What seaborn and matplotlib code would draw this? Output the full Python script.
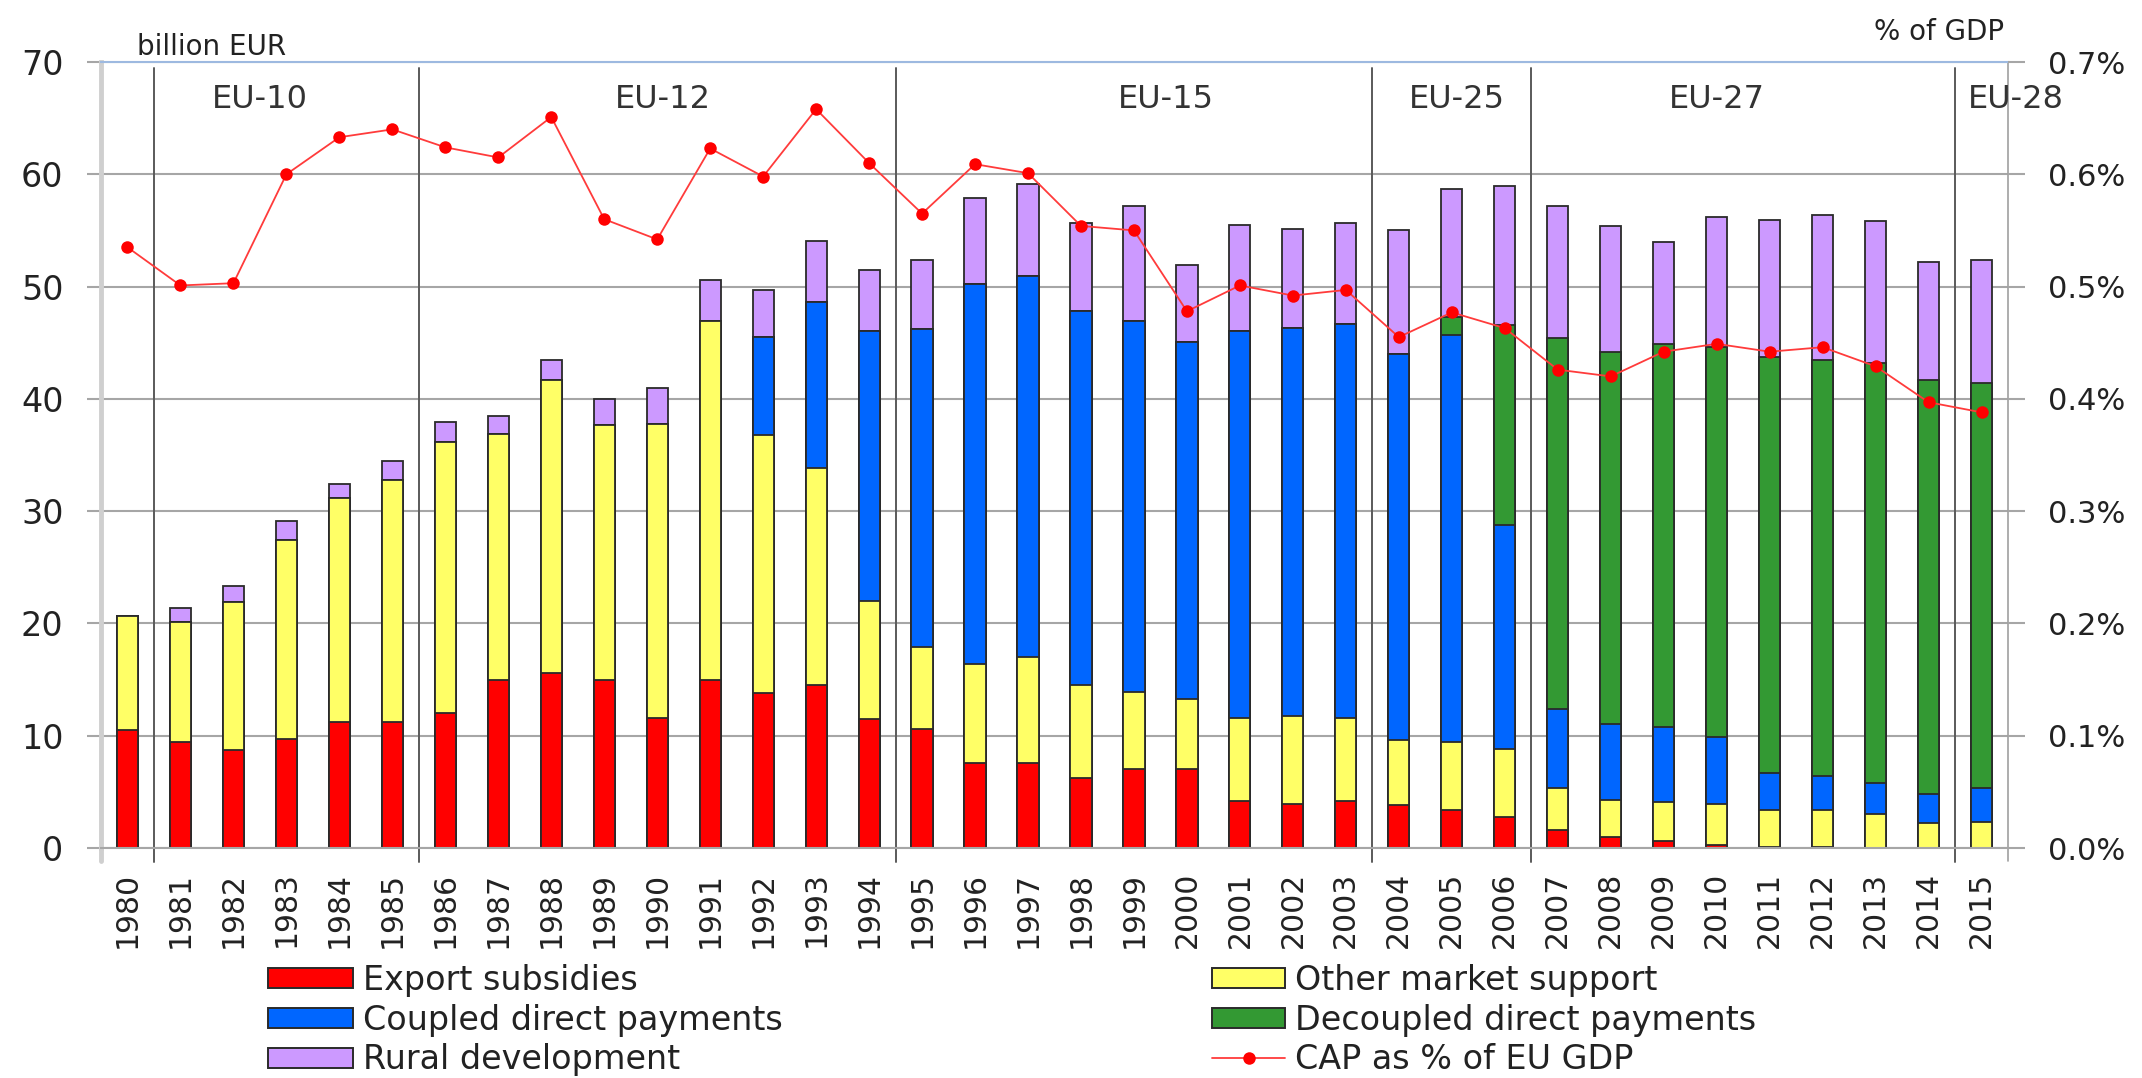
import numpy as np
import pandas as pd
import seaborn as sns
import matplotlib
matplotlib.use('Agg')
from matplotlib import pyplot as plt
from matplotlib import transforms
from matplotlib.lines import Line2D
from matplotlib.patches import Patch

# CAP expenditure, billion EUR
years = [str(y) for y in range(1980, 2016)]
export_subsidies = [10.5, 9.4, 8.7, 9.7, 11.2, 11.2, 12.0, 15.0, 15.6, 15.0,
                    11.6, 15.0, 13.8, 14.5, 11.5, 10.6, 7.6, 7.6, 6.2, 7.0,
                    7.0, 4.2, 3.9, 4.2, 3.8, 3.4, 2.8, 1.6, 1.0, 0.6,
                    0.3, 0.1, 0.1, 0.0, 0.0, 0.0]
other_market_support = [10.2, 10.7, 13.2, 17.7, 20.0, 21.6, 24.2, 21.9, 26.1, 22.7,
                        26.2, 31.9, 23.0, 19.3, 10.5, 7.3, 8.8, 9.4, 8.3, 6.9,
                        6.3, 7.4, 7.9, 7.4, 5.8, 6.0, 6.0, 3.7, 3.3, 3.5,
                        3.6, 3.25, 3.25, 3.05, 2.2, 2.3]
coupled_payments = [0, 0, 0, 0, 0, 0, 0, 0, 0, 0,
                    0, 0, 8.7, 14.8, 24.0, 28.3, 33.8, 33.9, 33.3, 33.0,
                    31.8, 34.4, 34.55, 35.1, 34.4, 36.3, 20.0, 7.1, 6.7, 6.65,
                    6.0, 3.35, 3.1, 2.75, 2.6, 3.0]
decoupled_payments = [0, 0, 0, 0, 0, 0, 0, 0, 0, 0,
                      0, 0, 0, 0, 0, 0, 0, 0, 0, 0,
                      0, 0, 0, 0, 0, 1.6, 17.8, 33.0, 33.2, 34.1,
                      34.7, 37.0, 37.05, 37.4, 36.9, 36.1]
rural_development = [0, 1.3, 1.4, 1.7, 1.2, 1.7, 1.7, 1.6, 1.8, 2.3,
                     3.2, 3.7, 4.2, 5.5, 5.5, 6.2, 7.7, 8.2, 7.9, 10.3,
                     6.8, 9.5, 8.8, 9.0, 11.0, 11.4, 12.4, 11.8, 11.2, 9.1,
                     11.6, 12.2, 12.9, 12.6, 10.5, 11.0]
# CAP as % of EU GDP
cap_pct_gdp = [0.535, 0.501, 0.503, 0.600, 0.633, 0.640, 0.624, 0.615, 0.651, 0.560,
               0.542, 0.623, 0.598, 0.658, 0.610, 0.565, 0.609, 0.601, 0.554, 0.550,
               0.478, 0.501, 0.492, 0.497, 0.455, 0.477, 0.463, 0.426, 0.420, 0.442,
               0.449, 0.442, 0.446, 0.429, 0.397, 0.388]

enlargements = ['EU-10', 'EU-12', 'EU-15', 'EU-25', 'EU-27', 'EU-28']
enlargement_years = ['1981', '1986', '1995', '2004', '2007', '2015']
label_pos = [2.5, 10.1, 19.6, 25.1, 30.0, 35.65]

series = ['Export subsidies', 'Other market support', 'Coupled direct payments',
          'Decoupled direct payments', 'Rural development']
colors = ['#ff0000', '#ffff66', '#0066ff', '#339933', '#cc99ff']

df = pd.DataFrame({'Export subsidies': export_subsidies,
                   'Other market support': other_market_support,
                   'Coupled direct payments': coupled_payments,
                   'Decoupled direct payments': decoupled_payments,
                   'Rural development': rural_development}, index=years)
cum = df.cumsum(axis=1)

sns.set_style('white')
plt.rcParams['font.family'] = ['DejaVu Sans']
plt.rcParams['text.color'] = '#222222'
plt.rcParams['xtick.color'] = '#222222'
plt.rcParams['ytick.color'] = '#222222'

fig = plt.figure(figsize=(21.42, 10.78), dpi=100)
ax = fig.add_axes([101 / 2142, 230 / 1078, 1907 / 2142, 786 / 1078])

grid_c = '#a6a6a6'
edge_c = '#2a2a2a'

# stacked bars: draw cumulative totals from the top layer down
for name, col in reversed(list(zip(series, colors))):
    sns.barplot(x=years, y=cum[name].values, order=years, color=col, saturation=1,
                width=0.4, edgecolor=edge_c, linewidth=1.3, errorbar=None, ax=ax)

ax.set_xlim(-0.5, 35.5)
ax.set_ylim(0, 70)
ax.set_yticks(range(0, 71, 10))
ax.set_xlabel('')
ax.set_ylabel('')
ax.set_xticks(range(len(years)))
ax.set_xticklabels(years, rotation=90, va='top', ha='center')
ax.set_xticks(np.arange(-0.5, len(years), 1), minor=True)
ax.tick_params(axis='x', which='major', length=0, labelsize=21.5, pad=17)
ax.tick_params(axis='x', which='minor', length=9, width=1.5, color=grid_c)
ax.tick_params(axis='y', length=10, width=1.5, color=grid_c, labelsize=24, pad=17)
ax.yaxis.grid(True, color=grid_c, linewidth=1.5)
ax.set_axisbelow(True)

ax.spines['top'].set_color('#9db9e0')
ax.spines['top'].set_linewidth(1.5)
ax.spines['bottom'].set_color(grid_c)
ax.spines['bottom'].set_linewidth(1.5)
ax.spines['left'].set_color('#cfcfcf')
ax.spines['left'].set_linewidth(3.5)
ax.spines['right'].set_color('#a0a0a0')
ax.spines['right'].set_linewidth(1.2)

trans = transforms.blended_transform_factory(ax.transData, ax.transAxes)
ax.plot([-0.5, -0.5], [-0.016, 0], transform=trans, color='#cfcfcf', lw=3.5, clip_on=False)
ax.plot([35.5, 35.5], [-0.016, 0], transform=trans, color='#a0a0a0', lw=1.2, clip_on=False)

# enlargement separators and labels
for yr in enlargement_years:
    xb = years.index(yr) - 0.5
    ax.plot([xb, xb], [-0.018, 0.993], transform=trans, color='#5a5a5a', lw=1.4,
            clip_on=False, zorder=1)
for lab, xp in zip(enlargements, label_pos):
    ax.text(xp, 66.7, lab, ha='center', va='center', fontsize=23, color='#333333')

# CAP as % of GDP on the right axis
ax2 = ax.twinx()
sns.lineplot(x=np.arange(len(years)), y=cap_pct_gdp, color='#ff3b3b', linewidth=1.3,
             marker='o', markersize=9, markeredgewidth=0, markerfacecolor='#ff0000', ax=ax2)
ax2.set_xlim(-0.5, 35.5)
ax2.set_ylim(0, 0.7)
ax2.set_yticks(np.arange(0, 0.71, 0.1))
ax2.set_yticklabels(['%.1f%%' % v for v in np.arange(0, 0.71, 0.1)])
ax2.tick_params(axis='y', length=12, width=1.5, color=grid_c, labelsize=22, pad=17)
ax2.set_ylabel('')
for s in ax2.spines.values():
    s.set_visible(False)

fig.text(137 / 2142, 1 - 55 / 1078, 'billion EUR', fontsize=20, ha='left', va='baseline')
fig.text(2004 / 2142, 1 - 40 / 1078, '% of GDP', fontsize=20, ha='right', va='baseline')

patches = [Patch(facecolor=c, edgecolor=edge_c, linewidth=1.4, label=n) for n, c in zip(series, colors)]
line_h = Line2D([0], [0], color='#ff3b3b', lw=1.3, marker='o', markersize=9,
                markerfacecolor='#ff0000', markeredgewidth=0, label='CAP as % of EU GDP')
leg_kw = dict(loc='upper left', frameon=False, fontsize=24, borderpad=0, borderaxespad=0,
              handleheight=0.55, handletextpad=0.3, labelspacing=0.2)
leg1 = fig.legend(handles=[patches[0], patches[2], patches[4]],
                  bbox_to_anchor=(268 / 2142, 1 - 964 / 1078), handlelength=2.55, **leg_kw)
leg2 = fig.legend(handles=[patches[1], patches[3], line_h],
                  bbox_to_anchor=(1212 / 2142, 1 - 964 / 1078), handlelength=2.2, **leg_kw)

fig.savefig('out.png', dpi=100)
